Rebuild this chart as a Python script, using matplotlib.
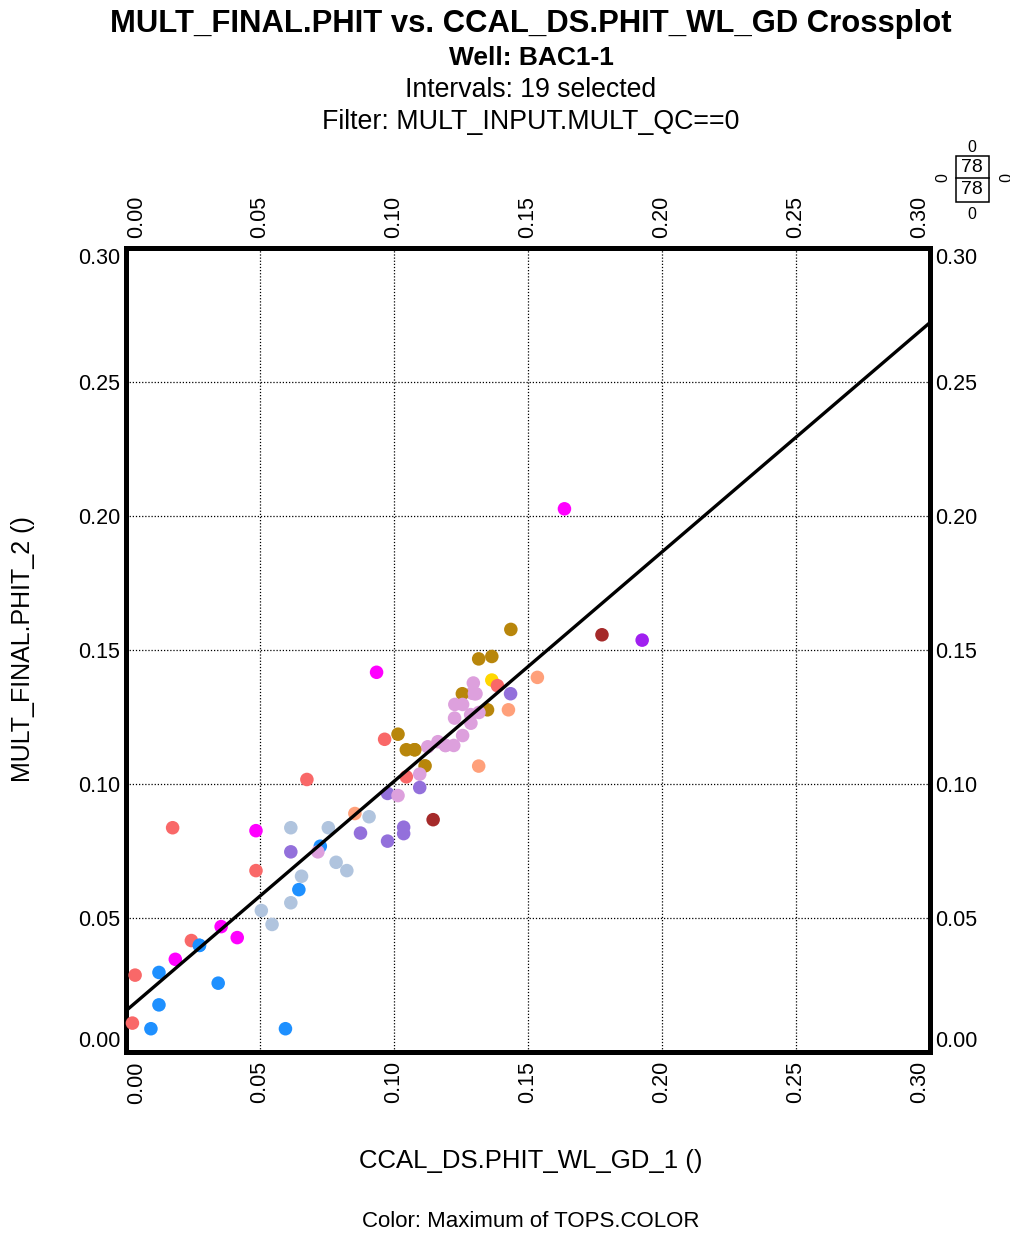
import matplotlib
matplotlib.use("Agg")
import matplotlib.pyplot as plt
from matplotlib.patches import Rectangle
from matplotlib.lines import Line2D

plt.rcParams['font.family'] = ['Liberation Sans', 'DejaVu Sans']

# colour of each top (TOPS.COLOR)
tops_colors = {
    'salmon': '#F96868',
    'magenta': '#FF00FF',
    'steel': '#B0C4DE',
    'dodger': '#1E90FF',
    'mpurple': '#9370DB',
    'plum': '#DDA0DD',
    'goldrod': '#B8860B',
    'lsalmon': '#FFA07A',
    'gold': '#FFD700',
    'brown': '#A52A2A',
    'purple': '#A020F0',
}

# CCAL_DS.PHIT_WL_GD_1 (x), MULT_FINAL.PHIT_2 (y), top colour
phit_x = [0.0174, 0.0485, 0.0615, 0.0755, 0.0615, 0.0725, 0.0716, 0.0784, 0.0824, 0.0485,
          0.0655, 0.0645, 0.0615, 0.0505, 0.0545, 0.0355, 0.0415, 0.0244, 0.0274, 0.0184,
          0.0034, 0.0123, 0.0344, 0.0123, 0.0024, 0.0093, 0.0595,
          0.0935, 0.1316, 0.1365, 0.1535, 0.1365, 0.1386, 0.1435, 0.1296, 0.1291, 0.1306,
          0.1255, 0.1227, 0.1256, 0.1349, 0.1427, 0.1317, 0.1286, 0.1226, 0.1287, 0.1015,
          0.0965, 0.1256, 0.1046, 0.1077, 0.1126, 0.1164, 0.1192, 0.1223, 0.1116, 0.1316,
          0.1096, 0.1046, 0.1096, 0.0976, 0.1015, 0.0854, 0.0907, 0.1146, 0.0875, 0.1036,
          0.1036, 0.0976, 0.1636, 0.1436, 0.1776, 0.1926, 0.0675,
          0.1192, 0.1300, 0.1077, 0.0274]
phit_y = [0.0835, 0.0824, 0.0835, 0.0835, 0.0745, 0.0766, 0.0745, 0.0706, 0.0675, 0.0675,
          0.0654, 0.0604, 0.0555, 0.0526, 0.0474, 0.0466, 0.0425, 0.0414, 0.0396, 0.0344,
          0.0285, 0.0295, 0.0255, 0.0174, 0.0106, 0.0085, 0.0085,
          0.1415, 0.1465, 0.1474, 0.1396, 0.1386, 0.1365, 0.1335, 0.1375, 0.1337, 0.1335,
          0.1335, 0.1295, 0.1295, 0.1275, 0.1275, 0.1265, 0.1257, 0.1244, 0.1225, 0.1184,
          0.1165, 0.1179, 0.1126, 0.1126, 0.1137, 0.1156, 0.1142, 0.1142, 0.1066, 0.1065,
          0.1035, 0.1025, 0.0985, 0.0963, 0.0955, 0.0888, 0.0876, 0.0865, 0.0815, 0.0837,
          0.0813, 0.0785, 0.2025, 0.1575, 0.1555, 0.1535, 0.1015,
          0.1142, 0.1335, 0.1126, 0.0396]
phit_top = ['salmon', 'magenta', 'steel', 'steel', 'mpurple', 'dodger', 'plum', 'steel', 'steel', 'salmon',
            'steel', 'dodger', 'steel', 'steel', 'steel', 'magenta', 'magenta', 'salmon', 'dodger', 'magenta',
            'salmon', 'dodger', 'dodger', 'dodger', 'salmon', 'dodger', 'dodger',
            'magenta', 'goldrod', 'goldrod', 'lsalmon', 'gold', 'salmon', 'mpurple', 'plum', 'plum', 'plum',
            'goldrod', 'plum', 'plum', 'goldrod', 'lsalmon', 'plum', 'plum', 'plum', 'plum', 'goldrod',
            'salmon', 'plum', 'goldrod', 'goldrod', 'plum', 'plum', 'plum', 'plum', 'goldrod', 'lsalmon',
            'plum', 'salmon', 'mpurple', 'mpurple', 'plum', 'lsalmon', 'steel', 'brown', 'mpurple', 'mpurple',
            'mpurple', 'mpurple', 'magenta', 'goldrod', 'brown', 'purple', 'salmon',
            'plum', 'plum', 'goldrod', 'dodger']

# regression line y = a + b*x
fit_a = 0.0152
fit_b = 0.856

ticks = [0.00, 0.05, 0.10, 0.15, 0.20, 0.25, 0.30]
tick_labels = ['%.2f' % t for t in ticks]

fig = plt.figure(figsize=(10.10, 12.35), dpi=100)
ax = fig.add_axes([0.12475, 0.14858, 0.79604, 0.65101])

ax.scatter(phit_x, phit_y, c=[tops_colors[t] for t in phit_top], s=95,
           linewidths=0, zorder=3, clip_on=False)
ax.plot([0, 0.3], [fit_a, fit_a + fit_b * 0.3], color='black', lw=2.4, zorder=4)

ax.set_xlim(0, 0.3)
ax.set_ylim(0, 0.3)
ax.set_xticks(ticks)
ax.set_yticks(ticks)
ax.grid(True, color='black', linestyle=(0, (1, 1.5)), linewidth=0.9)
ax.set_axisbelow(True)
for sp in ax.spines.values():
    sp.set_linewidth(3.6)

ax.tick_params(length=0, labelsize=15.5, pad=4,
               top=True, right=True, labeltop=True, labelright=True)
ax.tick_params(axis='x', pad=7)
ax.set_xticklabels(tick_labels, rotation=90)
ax.set_yticklabels(tick_labels)

# end labels are pulled inside the frame
xt = ax.xaxis.get_major_ticks()
yt = ax.yaxis.get_major_ticks()
xt[0].label1.set_ha('left'); xt[0].label2.set_ha('left')
xt[-1].label1.set_ha('right'); xt[-1].label2.set_ha('right')
yt[0].label1.set_va('bottom'); yt[0].label2.set_va('bottom')
yt[-1].label1.set_va('top'); yt[-1].label2.set_va('top')

cx = 0.5257
fig.text(cx, 0.9806, 'MULT_FINAL.PHIT vs. CCAL_DS.PHIT_WL_GD Crossplot',
         ha='center', va='center', fontsize=22.3, fontweight='bold')
fig.text(cx, 0.9530, 'Well: BAC1-1', ha='center', va='center', fontsize=19, fontweight='bold')
fig.text(cx, 0.9275, 'Intervals: 19 selected', ha='center', va='center', fontsize=19.2)
fig.text(cx, 0.9015, 'Filter: MULT_INPUT.MULT_QC==0', ha='center', va='center', fontsize=19.3)

fig.text(0.0228, 0.4741, 'MULT_FINAL.PHIT_2 ()', rotation=90, ha='center', va='center', fontsize=18)
fig.text(cx, 0.0599, 'CCAL_DS.PHIT_WL_GD_1 ()', ha='center', va='center', fontsize=18.5)
fig.text(cx, 0.0113, 'Color: Maximum of TOPS.COLOR', ha='center', va='center', fontsize=16)

# point count box
W, H = 1010.0, 1235.0
bx0, bx1, by0, by1, bmid = 955.7, 989.0, 156.0, 201.7, 178.3
fig.add_artist(Rectangle((bx0 / W, 1 - by1 / H), (bx1 - bx0) / W, (by1 - by0) / H,
                         transform=fig.transFigure, fill=False, lw=1.1, color='black'))
fig.add_artist(Line2D([bx0 / W, bx1 / W], [1 - bmid / H, 1 - bmid / H],
                      transform=fig.transFigure, lw=1.1, color='black'))
fig.text(972.3 / W, 1 - 167.3 / H, '78', ha='center', va='center', fontsize=14)
fig.text(972.3 / W, 1 - 190.0 / H, '78', ha='center', va='center', fontsize=14)
fig.text(971.7 / W, 1 - 147.7 / H, '0', ha='center', va='center', fontsize=11.5)
fig.text(971.7 / W, 1 - 214.3 / H, '0', ha='center', va='center', fontsize=11.5)
fig.text(942.7 / W, 1 - 177.7 / H, '0', ha='center', va='center', fontsize=11.5, rotation=90)
fig.text(1001.5 / W, 1 - 177.7 / H, '0', ha='center', va='center', fontsize=11.5, rotation=-90)

fig.savefig('out.png', dpi=100)
